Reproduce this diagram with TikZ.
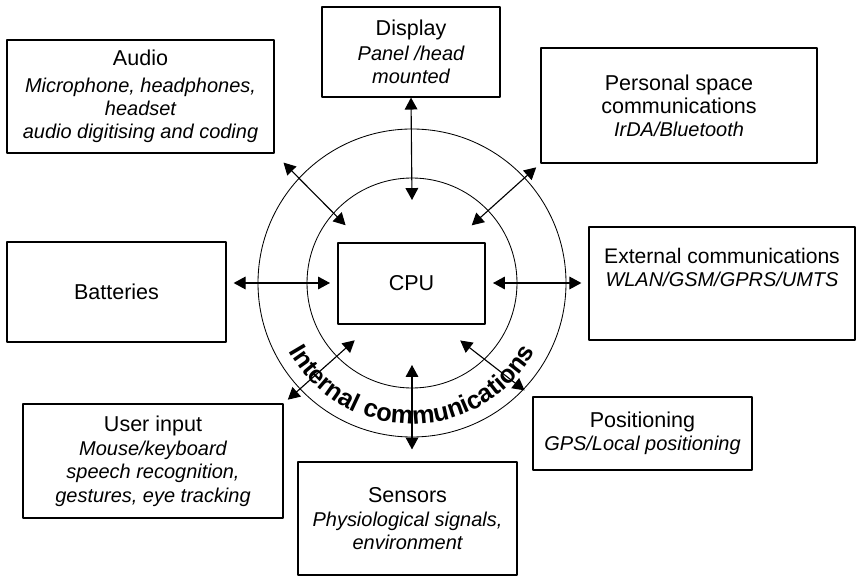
\documentclass[tikz,border=0pt]{standalone}
\usepackage{fontspec}
\setmainfont{Liberation Sans}
\usetikzlibrary{arrows.meta,decorations.text}
\newcommand{\detail}[1]{{\fontsize{14.2}{16.4}\selectfont\itshape #1}}
\begin{document}
\begin{tikzpicture}[x=0.025cm, y=0.025cm, line cap=round, line join=round,
    unit/.style={draw=black, line width=0.8pt, fill=white, align=center, inner sep=2pt, font=\fontsize{15.3}{16.4}\selectfont},
    link/.style={{Triangle[length=8.5pt,width=9pt]}-{Triangle[length=8.5pt,width=9pt]}, line width=0.8pt},
    ring/.style={line width=0.6pt}]
  \useasboundingbox (0,0) rectangle (861,-576);
  % Centre
  \node [unit, minimum width=3.675cm, minimum height=2.025cm] (unit-cpu) at (411.5,-283.5) {CPU};
  \draw [ring] (412,-283) circle [radius=105];
  \draw [ring] (412,-283) circle [radius=154];
  \path [decorate, decoration={text along path, text align=center,
      text={|\fontsize{18}{18}\selectfont\bfseries|Internal communications}}]
    (412,-283) ++(190:141) arc [start angle=190, end angle=350, radius=141];
  % Upper units
  \node [unit, minimum width=6.675cm, minimum height=2.825cm] (unit-audio) at (140.5,-96.5)
    {Audio\\[2.8pt] \detail{Microphone, headphones,}\\ \detail{headset}\\ \detail{audio digitising and coding}};
  \node [unit, minimum width=4.45cm, minimum height=2.25cm] (unit-display) at (411,-52)
    {Display\\[1pt] \detail{Panel /head}\\ \detail{mounted}};
  \node [unit, minimum width=6.9cm, minimum height=2.875cm] (unit-personal) at (679,-105.5)
    {Personal space\\ communications\\ \detail{IrDA/Bluetooth}};
  % Side units
  \node [unit, minimum width=5.475cm, minimum height=2.5cm] (unit-batteries) at (116.5,-292) {Batteries};
  \node [unit, minimum width=6.65cm, minimum height=2.825cm] (unit-external) at (722,-283.5) {};
  \node [align=center, font=\fontsize{15}{16.4}\selectfont] (label-external) at (722,-267)
    {External communications\\ \detail{WLAN/GSM/GPRS/UMTS}};
  % Lower units
  \node [unit, minimum width=6.5cm, minimum height=2.85cm] (unit-user) at (153,-461)
    {User input\\[1pt] \detail{Mouse/keyboard}\\ \detail{speech recognition,}\\ \detail{gestures, eye tracking}};
  \node [unit, minimum width=5.475cm, minimum height=2.825cm] (unit-sensors) at (407.5,-518.5)
    {Sensors\\[1pt] \detail{Physiological signals,}\\ \detail{environment}};
  \node [unit, minimum width=5.475cm, minimum height=1.825cm] (unit-positioning) at (642.5,-433.5)
    {Positioning\\ \detail{GPS/Local positioning}};
  % Ends of the links near the CPU
  \foreach \n/\a/\r in {display/90/83, audio/139/88, personal/44/83, batteries/180/82,
      external/0/81, user/225/81, sensors/270/82, positioning/310/75}
    \coordinate (ring-\n) at ([shift={(\a:\r)}]412,-283);
  % Links
  \draw [link] (ring-display) -- (unit-display.south);
  \draw [link, shorten >=9pt] (ring-audio) -- (unit-audio.south east);
  \draw [link, shorten >=4pt] (ring-personal) -- (unit-personal.south west);
  \draw [link, shorten >=5pt] (ring-batteries) -- (ring-batteries -| unit-batteries.east);
  \draw [link, shorten >=5pt] (ring-external) -- (ring-external -| unit-external.west);
  \draw [link, shorten >=4pt] (ring-user) -- (unit-user.north east);
  \draw [link, shorten >=8.5pt] (ring-sensors) -- (ring-sensors |- unit-sensors.north);
  \draw [link, shorten >=7pt] (ring-positioning) -- (unit-positioning.north west);
\end{tikzpicture}
\end{document}
